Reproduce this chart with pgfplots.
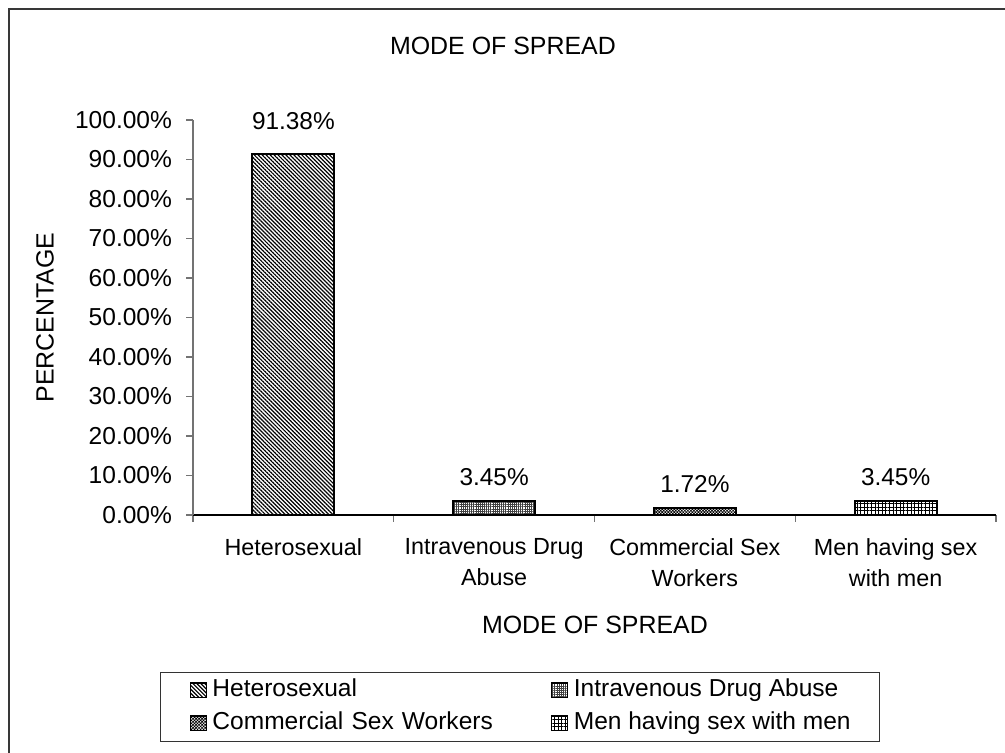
\documentclass[border=0pt]{standalone}
\usepackage{fontspec}
\setmainfont{Liberation Sans}
\usepackage{pgfplots}
\pgfplotsset{compat=1.18}
\usetikzlibrary{patterns.meta}

\pgfplotsset{
  barbox/.style={
    draw=black, line width=1.5pt,
    legend image code/.code={\draw[##1, line width=1pt] (0pt,-5.5pt) rectangle (12pt,5.5pt);}
  }
}

\begin{document}
\fontsize{17.5}{21.75}\selectfont
\begin{tikzpicture}
\useasboundingbox (0pt,0pt) rectangle (753.75pt,564pt);
% chart area frame
\draw[line width=1.6pt, draw=black!78] (6.75pt,-20pt) -- (6.75pt,557.25pt) -- (780pt,557.25pt);
\begin{axis}[
  at={(144.75pt,177.75pt)}, anchor=south west,
  scale only axis, width=602.25pt, height=296.25pt,
  xmin=0, xmax=4, ymin=0, ymax=100,
  ybar, bar width=61.5pt, bar shift=0pt,
  axis x line*=bottom, axis y line*=left,
  x axis line style={black, line width=1pt, -},
  y axis line style={black!55, line width=1pt, -},
  tick style={black!55, line width=1pt},
  tick align=outside, major tick length=5.25pt,
  xtick={0,1,2,3,4}, x tick label as interval,
  xticklabels={Heterosexual,{Intravenous Drug\\Abuse},{Commercial Sex\\Workers},{Men having sex\\with men}},
  xticklabel style={align=center, font=\fontsize{17.5}{23}\selectfont, yshift=-6.5pt},
  ytick={0,10,...,100},
  yticklabels={0.00\%,10.00\%,20.00\%,30.00\%,40.00\%,50.00\%,60.00\%,70.00\%,80.00\%,90.00\%,100.00\%},
  yticklabel style={font=\fontsize{18.4}{22}\selectfont, xshift=-4.5pt},
  /pgf/number format/assume math mode=true,
  title={MODE OF SPREAD},
  title style={at={(0.386,1.167)}, anchor=center, font=\fontsize{18.7}{22}\selectfont},
  xlabel={MODE OF SPREAD},
  xlabel style={at={(0.5006,-0.2785)}, anchor=center, font=\fontsize{18.7}{22}\selectfont},
  ylabel={PERCENTAGE},
  ylabel style={at={(-0.1843,0.5)}, anchor=center, font=\fontsize{18.7}{22}\selectfont},
  nodes near coords={\pgfmathprintnumber[fixed,fixed zerofill,precision=2]{\pgfplotspointmeta}\%},
  every node near coord/.append style={anchor=base, yshift=12pt, text=black, font=\fontsize{18.3}{22}\selectfont},
  legend columns=2, legend cell align=left,
  legend style={at={(-0.0411,-0.3975)}, anchor=north west, draw=black!80, line width=0.75pt,
    inner xsep=22pt, inner ysep=1pt, font=\fontsize{18.4}{22}\selectfont,
    nodes={inner xsep=0pt, inner ysep=3.9pt, text height=13pt, text depth=4pt},
    /tikz/every odd column/.append style={column sep=4pt},
    /tikz/column 2/.append style={column sep=36pt, text width=218pt}},
]
\addplot[barbox, pattern={Lines[angle=-45,distance=2.1pt,line width=0.9pt]},
  every node near coord/.append style={yshift=6.75pt}] coordinates {(0.5,91.38)};
\addplot[barbox, pattern={Hatch[angle=0,distance=1.6pt,line width=0.35pt]}, pattern color=black!75] coordinates {(1.5,3.45)};
\addplot[barbox, pattern={Hatch[angle=45,distance=1.6pt,line width=0.5pt]}] coordinates {(2.5,1.72)};
\addplot[barbox, pattern={Hatch[angle=0,distance=2.7pt,line width=0.45pt]}] coordinates {(3.5,3.45)};
\legend{Heterosexual,Intravenous Drug Abuse,Commercial Sex Workers,Men having sex with men}
\end{axis}
\end{tikzpicture}
\end{document}
